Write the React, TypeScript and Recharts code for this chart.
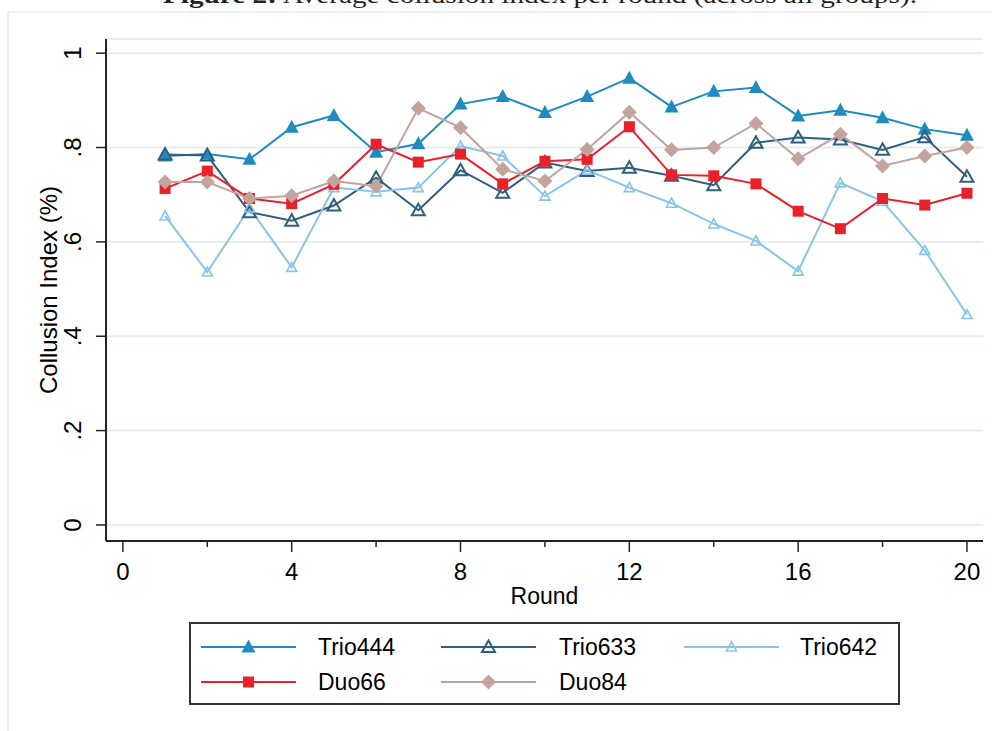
import { LineChart, Line, XAxis, YAxis, CartesianGrid } from "recharts";

const rounds = [1, 2, 3, 4, 5, 6, 7, 8, 9, 10, 11, 12, 13, 14, 15, 16, 17, 18, 19, 20];
const trio444 = [0.782, 0.786, 0.775, 0.843, 0.868, 0.79, 0.808, 0.892, 0.908, 0.874, 0.908, 0.947, 0.886, 0.919, 0.927, 0.867, 0.879, 0.863, 0.839, 0.826];
const trio633 = [0.785, 0.783, 0.663, 0.645, 0.677, 0.736, 0.667, 0.752, 0.704, 0.768, 0.75, 0.757, 0.74, 0.72, 0.81, 0.821, 0.817, 0.795, 0.822, 0.738];
const trio642 = [0.655, 0.536, 0.672, 0.546, 0.715, 0.706, 0.715, 0.803, 0.782, 0.697, 0.752, 0.715, 0.682, 0.638, 0.602, 0.538, 0.725, 0.686, 0.582, 0.446];
const duo66 = [0.713, 0.75, 0.692, 0.681, 0.722, 0.807, 0.769, 0.786, 0.723, 0.771, 0.775, 0.844, 0.742, 0.74, 0.723, 0.665, 0.628, 0.692, 0.678, 0.703];
const duo84 = [0.727, 0.727, 0.692, 0.698, 0.729, 0.718, 0.883, 0.842, 0.754, 0.729, 0.796, 0.875, 0.795, 0.8, 0.851, 0.776, 0.828, 0.761, 0.782, 0.8];

const xTicks = [0, 2, 4, 6, 8, 10, 12, 14, 16, 18, 20];
const yTicks = [0, 0.2, 0.4, 0.6, 0.8, 1];
const yTickLabels = ["0", ".2", ".4", ".6", ".8", "1"];

const data = rounds.map((r, i) => ({
  round: r,
  Trio444: trio444[i],
  Trio633: trio633[i],
  Trio642: trio642[i],
  Duo66: duo66[i],
  Duo84: duo84[i],
}));

type Shape = "triFill" | "triHollow" | "triSmall" | "square" | "diamond";

const series: { key: string; color: string; shape: Shape }[] = [
  { key: "Trio444", color: "#1f8bc0", shape: "triFill" },
  { key: "Trio633", color: "#2e5f7e", shape: "triHollow" },
  { key: "Trio642", color: "#8ac3ea", shape: "triSmall" },
  { key: "Duo66", color: "#e8212b", shape: "square" },
  { key: "Duo84", color: "#c2a49c", shape: "diamond" },
];

const FONT = "'Liberation Sans', Arial, sans-serif";

function Marker({ cx, cy, shape, color }: { cx: number; cy: number; shape: Shape; color: string }) {
  if (shape === "triFill") {
    return <polygon points={`${cx},${cy - 7.5} ${cx - 7},${cy + 5.5} ${cx + 7},${cy + 5.5}`} fill={color} />;
  }
  if (shape === "triHollow") {
    return (
      <polygon
        points={`${cx},${cy - 6.5} ${cx - 6.5},${cy + 5} ${cx + 6.5},${cy + 5}`}
        fill="none"
        stroke={color}
        strokeWidth={2}
      />
    );
  }
  if (shape === "triSmall") {
    return (
      <polygon
        points={`${cx},${cy - 5} ${cx - 5},${cy + 4} ${cx + 5},${cy + 4}`}
        fill="none"
        stroke={color}
        strokeWidth={1.6}
      />
    );
  }
  if (shape === "square") {
    return <rect x={cx - 5.5} y={cy - 5.5} width={11} height={11} fill={color} />;
  }
  return <polygon points={`${cx},${cy - 7.5} ${cx + 7.5},${cy} ${cx},${cy + 7.5} ${cx - 7.5},${cy}`} fill={color} />;
}

const XTick = (props: any) => {
  const { x, y, payload } = props;
  const major = payload.value % 4 === 0;
  return (
    <g>
      <line x1={x} x2={x} y1={y} y2={y + (major ? 11 : 6)} stroke="#222" strokeWidth={1.5} />
      {major && (
        <text x={x} y={y + 39} textAnchor="middle" fontSize={24} fontFamily={FONT} fill="#000">
          {payload.value}
        </text>
      )}
    </g>
  );
};

const YTick = (props: any) => {
  const { x, y, payload } = props;
  const idx = yTicks.indexOf(payload.value);
  const lx = x - 33;
  return (
    <g>
      <line x1={x - 10} x2={x} y1={y} y2={y} stroke="#222" strokeWidth={1.5} />
      <text
        x={lx}
        y={y}
        transform={`rotate(-90 ${lx} ${y})`}
        textAnchor="middle"
        dominantBaseline="central"
        fontSize={24}
        fontFamily={FONT}
        fill="#000"
      >
        {yTickLabels[idx]}
      </text>
    </g>
  );
};

const YLabel = (props: any) => {
  const vb = props.viewBox;
  const cy = vb.y + vb.height / 2;
  return (
    <text
      x={48}
      y={cy}
      transform={`rotate(-90 48 ${cy})`}
      textAnchor="middle"
      dominantBaseline="central"
      fontSize={24}
      fontFamily={FONT}
      fill="#000"
    >
      Collusion Index (%)
    </text>
  );
};

const legendCols = [
  { line: 201, text: 318 },
  { line: 441, text: 559 },
  { line: 684, text: 800 },
];

function LegendBox() {
  return (
    <svg width={992} height={731} style={{ position: "absolute", left: 0, top: 0, pointerEvents: "none" }}>
      <rect x={190} y={623} width={709} height={81} fill="#fff" stroke="#333" strokeWidth={2} />
      {series.map((s, i) => {
        const col = legendCols[i % 3];
        const cy = i < 3 ? 647 : 682;
        return (
          <g key={s.key}>
            <line x1={col.line} x2={col.line + 95} y1={cy} y2={cy} stroke={s.color} strokeWidth={2} />
            <Marker cx={col.line + 47.5} cy={cy} shape={s.shape} color={s.color} />
            <text x={col.text} y={cy} dominantBaseline="central" fontSize={23} fontFamily={FONT} fill="#000">
              {s.key}
            </text>
          </g>
        );
      })}
    </svg>
  );
}

export default function App() {
  return (
    <div style={{ position: "absolute", left: 0, top: 0, width: 992, height: 731, overflow: "hidden", background: "#fff" }}>
      <svg width={992} height={731} style={{ position: "absolute", left: 0, top: 0 }}>
        <rect x={8} y={12} width={990} height={730} fill="#fff" stroke="#e4ecef" strokeWidth={1.5} />
        <text x={163} y={3} fontSize={24} fontFamily="'Liberation Serif', 'DejaVu Serif', serif" fill="#222" textLength={754} lengthAdjust="spacingAndGlyphs">
          <tspan fontWeight="bold">Figure 2:</tspan> Average collusion index per round (across all groups).
        </text>
      </svg>
      <div style={{ position: "absolute", left: 0, top: 0 }}>
        <LineChart width={992} height={731} data={data} margin={{ top: 39, right: 9, bottom: 130, left: 0 }}>
          <CartesianGrid horizontal vertical={false} stroke="#e5eef0" strokeWidth={2} />
          <XAxis
            dataKey="round"
            type="number"
            domain={[-0.4, 20.38]}
            allowDataOverflow
            ticks={xTicks}
            interval={0}
            tickSize={0}
            tickMargin={0}
            tickLine={false}
            tick={<XTick />}
            height={60}
            axisLine={{ stroke: "#222", strokeWidth: 2 }}
            label={{ value: "Round", position: "insideBottom", offset: -3, fontSize: 23, fill: "#000", fontFamily: FONT }}
          />
          <YAxis
            type="number"
            domain={[-0.034, 1.03]}
            allowDataOverflow
            ticks={yTicks}
            interval={0}
            tickSize={0}
            tickMargin={0}
            tickLine={false}
            tick={<YTick />}
            width={106}
            axisLine={{ stroke: "#222", strokeWidth: 2 }}
            label={<YLabel />}
          />
          {series.map((s) => (
            <Line
              key={s.key}
              dataKey={s.key}
              stroke={s.color}
              strokeWidth={2}
              isAnimationActive={false}
              activeDot={false}
              dot={(p: any) => <Marker key={`${s.key}-${p.index}`} cx={p.cx} cy={p.cy} shape={s.shape} color={s.color} />}
            />
          ))}
        </LineChart>
      </div>
      <LegendBox />
    </div>
  );
}
